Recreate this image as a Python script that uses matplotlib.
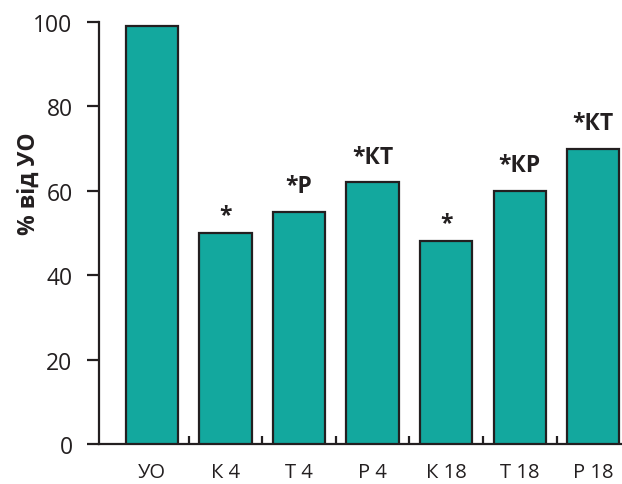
import matplotlib
matplotlib.use("Agg")
import matplotlib.pyplot as plt
import numpy as np

categories = ["УО", "К 4", "Т 4", "Р 4", "К 18", "Т 18", "Р 18"]
values = [99, 50, 55, 62, 48, 60, 70]
annotations = ["", "*", "*Р", "*КТ", "*", "*КР", "*КТ"]
yticks = [0, 20, 40, 60, 80, 100]

plt.rcParams['font.family'] = ['Open Sans', 'DejaVu Sans']
dark = "#231f20"
teal = "#13a89e"

fig = plt.figure(figsize=(6.22, 4.85), dpi=100)
ax = fig.add_axes([0.159, 0.0825, 0.841, 0.8701])

x = np.arange(len(categories))
ax.bar(x, values, width=0.71, color=teal, edgecolor=dark, linewidth=1.6, zorder=3)

for xi, v, a in zip(x, values, annotations):
    if a:
        off = 1.4 if a == "*" else 3.2
        ax.text(xi, v + off, a, ha='center', va='bottom', fontsize=16.5,
                fontweight='bold', color=dark)

ax.set_xlim(-0.72, len(categories) - 1 + 0.39)
ax.set_ylim(0, 100)
ax.set_yticks(yticks)
ax.set_xticks(x)
ax.set_xticklabels(categories, fontsize=14.5, color=dark)
ax.set_xticks(x[:-1] + 0.5, minor=True)
ax.tick_params(axis='x', which='major', length=0, pad=13)
ax.tick_params(axis='x', which='minor', direction='in', length=6, width=1.6, color=dark)
ax.tick_params(axis='y', which='major', direction='out', length=9, width=1.6,
               color=dark, labelsize=16.5, labelcolor=dark, pad=10)

for s in ['top', 'right']:
    ax.spines[s].set_visible(False)
for s in ['left', 'bottom']:
    ax.spines[s].set_linewidth(1.6)
    ax.spines[s].set_color(dark)

ax.set_ylabel("% від УО", fontsize=16.5, fontweight='bold', color=dark)
ax.yaxis.set_label_coords(-0.112, 0.62)

fig.savefig("out.png", dpi=100)
